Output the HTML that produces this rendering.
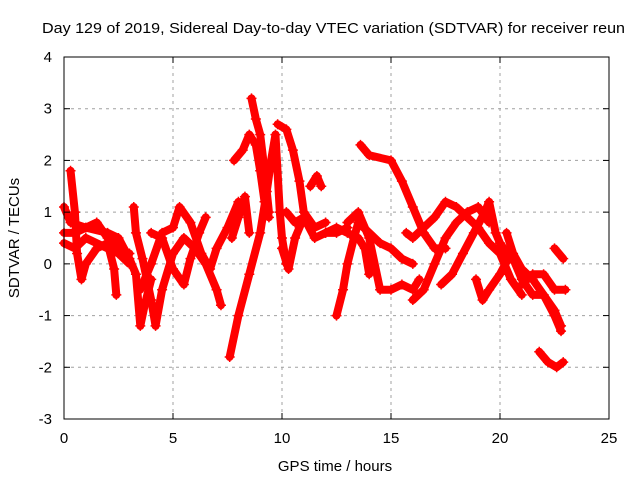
<!DOCTYPE html>
<html><head><meta charset="utf-8"><style>
body{margin:0;background:#fff;}
svg{display:block;font-family:"Liberation Sans",sans-serif;}
</style></head><body>
<svg id="chart" width="640" height="480" viewBox="0 0 640 480">
<rect x="0" y="0" width="640" height="480" fill="#fff"/>
<text x="42" y="33" font-size="15" textLength="583" lengthAdjust="spacingAndGlyphs" fill="#000">Day 129 of 2019, Sidereal Day-to-day VTEC variation (SDTVAR) for receiver reun</text>
<g id="grid"></g>
<g id="series"></g>
<rect x="64" y="57" width="545" height="362" fill="none" stroke="#000" stroke-width="1"/>
<g id="ticks"></g>
<text x="335" y="471" font-size="15" text-anchor="middle">GPS time / hours</text>
<text transform="translate(19,238) rotate(-90)" font-size="15" text-anchor="middle">SDTVAR / TECUs</text>
</svg>
<script>
const xTicks=[0,5,10,15,20,25];
const yTicks=[-3,-2,-1,0,1,2,3,4];
const tracks=[
[[0,1.1],[0.3,0.8],[1,0.7],[2,0.6],[2.5,0.5],[3,0.1],[3.3,-0.2],[3.5,-1.2],[3.7,-0.8],[4,-0.3]],
[[0,0.4],[0.5,0.3],[1,0.5],[2,0.3],[2.5,0.2],[3,0]],
[[0.3,1.8],[0.5,1.0],[0.6,0.2],[0.8,-0.3],[1,0],[1.5,0.3],[2,0.4],[2.3,-0.1],[2.4,-0.6]],
[[0,0.6],[0.5,0.6],[1.5,0.8],[2,0.5],[2.5,0.3],[3,0.2]],
[[3.2,1.1],[3.3,0.6],[3.6,0.1],[4,-0.7],[4.2,-1.2],[4.5,-0.5],[5,0.2],[5.5,0.5],[6,0.3],[6.5,0],[7,-0.5],[7.2,-0.8]],
[[3.5,-0.5],[4,0],[4.5,0.6],[5,0.7],[5.3,1.1],[5.8,0.8],[6.3,0.2],[6.7,-0.1],[7,0.3],[7.5,0.7],[8,1.2]],
[[4,0.6],[4.5,0.5],[5,-0.1],[5.5,-0.4],[5.8,0.1],[6.2,0.6],[6.5,0.9]],
[[7.6,-1.8],[8,-1.0],[8.5,-0.2],[9,0.6],[9.3,1.4],[9.5,2.0],[9.7,2.5],[9.9,1.0],[10,0.5],[10.2,0]],
[[7.7,0.5],[8,0.9],[8.3,1.3],[8.5,0.6]],
[[7.8,2.0],[8.2,2.2],[8.5,2.5],[8.8,2.3],[9.0,1.8],[9.2,1.2],[9.4,0.9]],
[[8.6,3.2],[8.8,2.8],[9,2.5],[9.2,1.8],[9.4,1.0]],
[[9.8,2.7],[10.2,2.6],[10.5,2.2],[10.8,1.6],[11,1.0],[11.5,0.7],[12,0.8]],
[[10,0.3],[10.3,-0.1],[10.6,0.5],[11,0.9],[11.5,0.5],[12,0.6],[12.5,0.6],[13,0.7]],
[[11.3,1.5],[11.6,1.7],[11.8,1.5]],
[[10.2,1.0],[10.6,0.8],[11,0.9]],
[[12.5,-1.0],[12.8,-0.5],[13,0],[13.3,0.5],[13.5,0.8],[14,0.6],[14.5,0.4],[15,0.3],[15.5,0.1],[16,0]],
[[13,0.8],[13.5,1.0],[14,0.5],[14.5,-0.5],[15,-0.5],[15.5,-0.4],[16,-0.5],[16.3,-0.3]],
[[12,0.6],[12.5,0.7],[13,0.6],[13.5,0.5],[13.8,0.3],[14,-0.2]],
[[13.6,2.3],[14,2.1],[15,2.0],[15.5,1.6],[16,1.1],[16.5,0.6],[17,0.3],[17.5,0.3]],
[[15.7,0.6],[16,0.5],[16.5,0.7],[17,0.9],[17.5,1.2],[18,1.1],[18.5,0.9],[19,0.7],[19.5,0.4],[20,0.2],[20.5,-0.3],[21,-0.6]],
[[16,-0.7],[16.5,-0.5],[17,0],[17.5,0.5],[18,0.8],[18.5,1.0],[19,1.1],[19.5,0.8]],
[[17.3,-0.4],[17.8,-0.2],[18.3,0.2],[18.8,0.6],[19.3,1.0],[19.5,1.2],[19.8,0.6],[20,0.4],[20.5,0.1]],
[[18.9,-0.3],[19.2,-0.7],[19.5,-0.5],[20,-0.2],[20.5,0.2],[21,-0.3],[21.5,-0.6],[22,-0.6],[22.5,-0.9],[22.8,-1.2]],
[[20.3,0.6],[20.6,0.2],[21,-0.1],[21.5,-0.3],[22,-0.6],[22.5,-1.0],[22.8,-1.3]],
[[21.8,-1.7],[22.2,-1.9],[22.6,-2.0],[22.9,-1.9]],
[[22.5,0.3],[22.9,0.1]],
[[21,-0.4],[21.5,-0.2],[22,-0.2],[22.5,-0.5],[23,-0.5]]
];
const NS='http://www.w3.org/2000/svg';
const X0=64,X1=609,Y0=419,Y1=57;
function xs(t){return X0+(t-0)/(25-0)*(X1-X0);}
function ys(v){return Y0-(v+3)/(4+3)*(Y0-Y1);}
function mk(tag,attrs,parent){const e=document.createElementNS(NS,tag);for(const k in attrs)e.setAttribute(k,attrs[k]);parent.appendChild(e);return e;}
const grid=document.getElementById('grid'),ticks=document.getElementById('ticks'),ser=document.getElementById('series');
xTicks.forEach(t=>{
 const x=xs(t);
 if(t>0&&t<25){const g=mk('line',{x1:x,x2:x,y1:Y0,y2:Y1,stroke:'#a0a0a0','stroke-dasharray':'3,4'},grid);
 
 }
 mk('line',{x1:x,x2:x,y1:Y0,y2:Y0-6,stroke:'#000'},ticks);
 mk('line',{x1:x,x2:x,y1:Y1,y2:Y1+6,stroke:'#000'},ticks);
 const l=mk('text',{x:x,y:443,'font-size':15,'text-anchor':'middle'},ticks);l.textContent=t;
 
 
});
yTicks.forEach(v=>{
 const y=ys(v);
 if(v>-3&&v<4){const g=mk('line',{x1:X0,x2:X1,y1:y,y2:y,stroke:'#a0a0a0','stroke-dasharray':'3,4'},grid);
 
 }
 mk('line',{x1:X0,x2:X0+6,y1:y,y2:y,stroke:'#000'},ticks);
 mk('line',{x1:X1,x2:X1-6,y1:y,y2:y,stroke:'#000'},ticks);
 const l=mk('text',{x:52,y:y+5,'font-size':15,'text-anchor':'end'},ticks);l.textContent=v;
 
 
});
tracks.forEach((tr)=>{
 const pts=tr.map(p=>xs(p[0])+','+ys(p[1])).join(' ');
 const pl=mk('polyline',{points:pts,fill:'none',stroke:'#ff0000','stroke-width':8,'stroke-linejoin':'round','stroke-linecap':'round'},ser);
 
 
 tr.forEach(p=>{
  const x=xs(p[0]),y=ys(p[1]);
  const m=mk('path',{d:`M${x-5},${y}H${x+5}M${x},${y-5}V${y+5}`,stroke:'#ff0000','stroke-width':1.5},ser);
  
  
 });
});
</script>
</body></html>
